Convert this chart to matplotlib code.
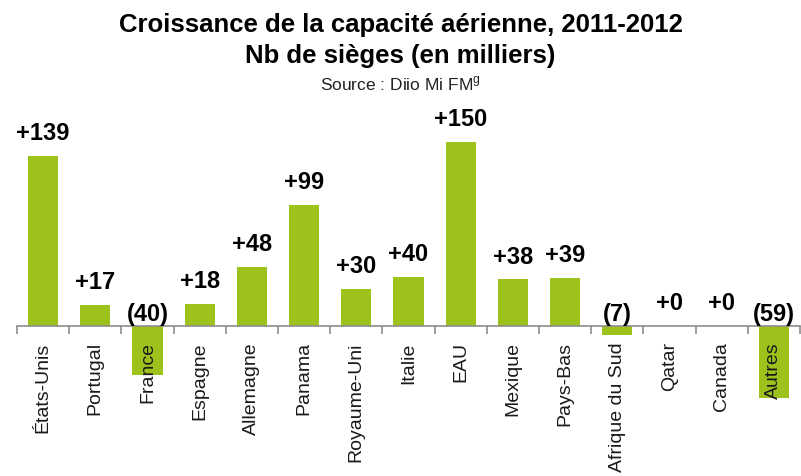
import numpy as np
import matplotlib
matplotlib.use('Agg')
import matplotlib.pyplot as plt
from matplotlib.ticker import FixedLocator

plt.rcParams['font.family'] = ['Liberation Sans', 'DejaVu Sans']
plt.rcParams['mathtext.fontset'] = 'custom'
plt.rcParams['mathtext.rm'] = 'Liberation Sans'

# Growth in seats, thousands
pays = ['États-Unis', 'Portugal', 'France', 'Espagne', 'Allemagne', 'Panama',
        'Royaume-Uni', 'Italie', 'EAU', 'Mexique', 'Pays-Bas', 'Afrique du Sud',
        'Qatar', 'Canada', 'Autres']
croissance = [139, 17, -40, 18, 48, 99, 30, 40, 150, 38, 39, -7, 0, 0, -59]

vert = '#9dc21b'
gris = '#8c8c8c'

fig = plt.figure(figsize=(8.01, 4.77), dpi=100)
ax = fig.add_axes([17/801, 77/477, 783/801, 260/477])

x = np.arange(len(pays))
ax.bar(x, croissance, width=0.58, color=vert, zorder=1)

ax.set_xlim(-0.5, len(pays) - 0.5)
ax.set_ylim(-59.6, 152.6)

for s in ['top', 'right', 'left']:
    ax.spines[s].set_visible(False)
ax.spines['bottom'].set_position(('data', 0))
ax.spines['bottom'].set_color(gris)
ax.spines['bottom'].set_linewidth(1.2)
ax.set_yticks([])

# labels centred under each bar, tick marks between categories
ax.set_xticks(x)
ax.set_xticklabels(pays, rotation=90, fontsize=14, color='#1a1a1a')
ax.tick_params(axis='x', which='major', length=0, pad=11)
ax.xaxis.set_minor_locator(FixedLocator(np.arange(-0.5, len(pays), 1.0)))
ax.tick_params(axis='x', which='minor', length=6, width=1.2, color=gris, direction='out')

for xi, v in zip(x, croissance):
    if v >= 0:
        txt = '+%d' % v
        ax.annotate(txt, (xi, v), xytext=(0, 8.5), textcoords='offset points',
                    ha='center', va='bottom', fontsize=17, fontweight='bold')
    else:
        txt = '(%d)' % -v
        ax.annotate(txt, (xi, 0), xytext=(0, 1), textcoords='offset points',
                    ha='center', va='bottom', fontsize=17, fontweight='bold')

fig.text(0.5, 0.948, 'Croissance de la capacité aérienne, 2011-2012', ha='center',
         va='center', fontsize=18.5, fontweight='bold')
fig.text(0.5, 0.883, 'Nb de sièges (en milliers)', ha='center', va='center',
         fontsize=18.5, fontweight='bold')
fig.text(0.5, 0.824, 'Source : Diio Mi FM$^{\\mathrm{g}}$', ha='center', va='center',
         fontsize=12.5, color='#222222')

plt.savefig('out.png', dpi=100)
